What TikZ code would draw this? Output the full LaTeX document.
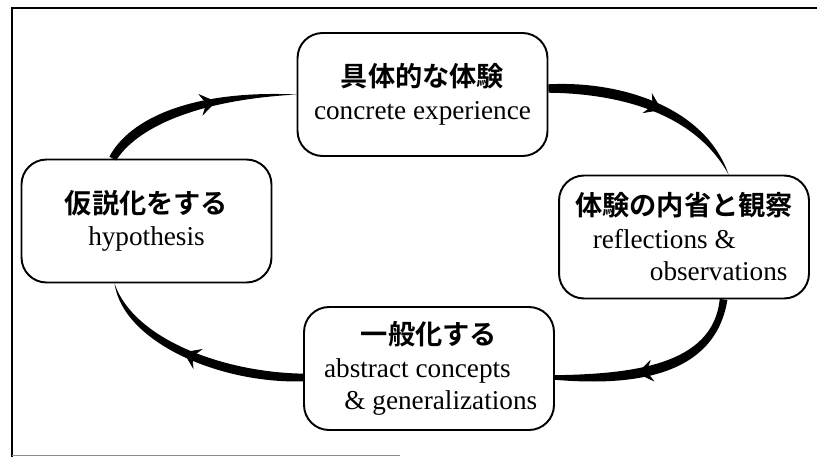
\documentclass[tikz,border=0pt]{standalone}
\usepackage{fontspec}
\setmainfont{Liberation Serif}
\newfontfamily\jpfont{Noto Sans CJK JP}[UprightFont=* Bold]
\usetikzlibrary{arrows.meta, calc, decorations.markings}

\tikzset{
  stage/.style={draw, line width=1.1pt, rounded corners=0.5cm, minimum width=5cm, minimum height=2.46cm,
    inner sep=0pt, align=center, font=\fontsize{15.5}{18.5}\selectfont},
  barb/.style={postaction={decorate}, decoration={markings,
    mark=at position #1 with {\arrow{Stealth[length=0.32cm, width=0.44cm, inset=0.12cm]}}}},
}

% brush stroke: start, control, control, end, start half width, end half width, barb position
\newcommand{\flowarrow}[7]{%
  \pgfmathsetlengthmacro\wa{#5}%
  \pgfmathsetlengthmacro\wd{#6}%
  \pgfmathsetlengthmacro\wb{1.6*\wa}%
  \pgfmathsetlengthmacro\wc{1.4*\wa+0.3*\wd}%
  \fill ($(#1)!\wa!90:(#2)$) .. controls ($(#2)!\wb!90:(#3)$) and ($(#3)!\wc!90:(#4)$) .. ($(#4)!\wd!-90:(#3)$)
    -- ($(#4)!\wd!90:(#3)$) .. controls ($(#3)!\wc!-90:(#4)$) and ($(#2)!\wb!-90:(#3)$) .. ($(#1)!\wa!-90:(#2)$) -- cycle;
  \path[barb=#7] (#1) .. controls (#2) and (#3) .. (#4);}

\begin{document}
\begin{tikzpicture}[x=0.02cm, y=-0.02cm]
  \useasboundingbox (0,0) rectangle (817,457);
  % frame
  \draw[line width=1.2pt] (12,457) -- (12,8) -- (817,8);
  \draw[black!45, line width=0.6pt] (12,455.5) -- (400,455.5);

  % the four stages
  \node[stage] (conc) at (422.5,94.5) {{\jpfont 具体的な体験}\\concrete experience};
  \node[stage] (hyp) at (146.5,221) {{\jpfont 仮説化をする}\\hypothesis};
  \node[stage] (refl) at (684,237) {{\jpfont 体験の内省と観察}\\reflections \&\hspace*{1.45em}\null\\\hspace*{2.55em}observations};
  \node[stage] (gen) at (429,368.5) {{\jpfont 一般化する}\\abstract concepts\hspace*{0.85em}\null\\\hspace*{0.87em}\& generalizations};

  % ends of the strokes
  \coordinate (a1s) at ($(hyp.north west)!0.366!(hyp.north east)$);
  \coordinate (a1e) at (conc.west);
  \coordinate (a2s) at ($(conc.east)+(0,-6)$);
  \coordinate (a2e) at ($(refl.north west)!0.677!(refl.north east)$);
  \coordinate (a3s) at ($(refl.south west)!0.657!(refl.south east)$);
  \coordinate (a3e) at ($(gen.east)+(0,9)$);
  \coordinate (a4s) at ($(gen.west)+(0,9)$);
  \coordinate (a4e) at ($(hyp.south west)!0.373!(hyp.south east)$);

  \flowarrow{a1s}{132,125}{190,95}{a1e}{2.2pt}{0pt}{0.6}
  \flowarrow{a2s}{620,87}{700,110}{a2e}{2.4pt}{0pt}{0.55}
  \flowarrow{a3s}{714,372}{630,380}{a3e}{2.2pt}{1.3pt}{0.6}
  \flowarrow{a4s}{220,378}{128,340}{a4e}{2.2pt}{0pt}{0.55}
\end{tikzpicture}
\end{document}
